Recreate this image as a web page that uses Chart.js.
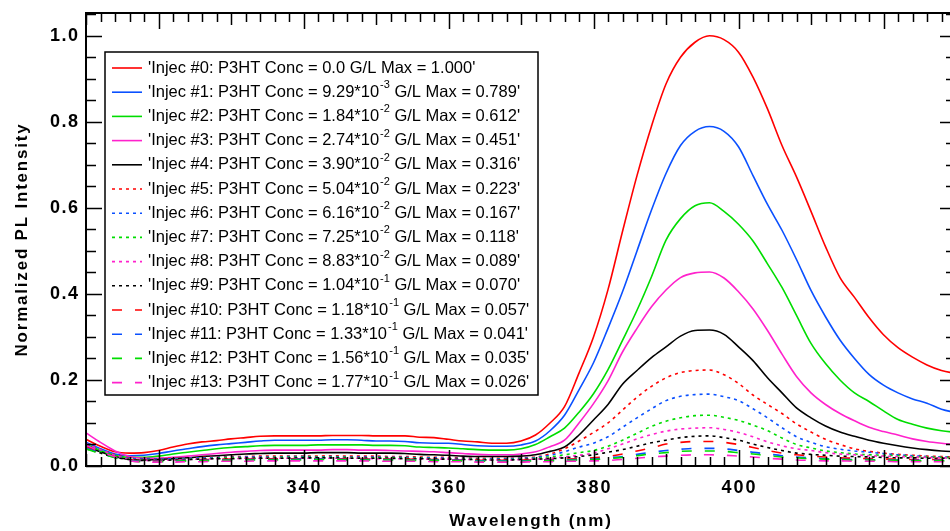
<!DOCTYPE html>
<html>
<head>
<meta charset="utf-8">
<script src="https://cdn.jsdelivr.net/npm/chart.js@4.4.0/dist/chart.umd.min.js"></script>
<style>
  html, body { margin: 0; padding: 0; background: #fff; overflow: hidden; }
  #wrap { width: 960px; height: 531px; }
</style>
</head>
<body>
<div id="wrap"><canvas id="plChart" width="960" height="531"></canvas></div>
<script>
// wavelength grid (nm)
var wavelength = [310, 312, 314, 316, 318, 320, 322, 324, 326, 328,
  330, 332, 334, 336, 338, 340, 342, 344, 346, 348,
  350, 352, 354, 356, 358, 360, 362, 364, 366, 368,
  370, 372, 374, 376, 378, 380, 382, 384, 386, 388,
  390, 392, 394, 396, 398, 400, 402, 404, 406, 408,
  410, 412, 414, 416, 418, 420, 422, 424, 426, 428, 430]

// normalized PL intensity, one array per injection
var inj0 = [0.062, 0.046, 0.033, 0.030, 0.031, 0.036, 0.044, 0.051, 0.056, 0.059,
  0.063, 0.066, 0.069, 0.070, 0.070, 0.070, 0.070, 0.071, 0.071, 0.071,
  0.070, 0.070, 0.070, 0.067, 0.066, 0.062, 0.058, 0.056, 0.053, 0.053,
  0.058, 0.072, 0.100, 0.138, 0.216, 0.300, 0.410, 0.545, 0.675, 0.790,
  0.888, 0.950, 0.985, 1.000, 0.991, 0.962, 0.904, 0.830, 0.745, 0.672,
  0.592, 0.510, 0.438, 0.392, 0.345, 0.305, 0.275, 0.253, 0.235, 0.222, 0.215]
var inj1 = [0.055, 0.040, 0.028, 0.024, 0.025, 0.029, 0.035, 0.040, 0.045, 0.049,
  0.052, 0.055, 0.058, 0.060, 0.060, 0.060, 0.060, 0.061, 0.061, 0.060,
  0.058, 0.058, 0.057, 0.054, 0.053, 0.053, 0.050, 0.047, 0.046, 0.046,
  0.049, 0.058, 0.082, 0.118, 0.177, 0.240, 0.320, 0.405, 0.500, 0.595,
  0.680, 0.745, 0.778, 0.789, 0.778, 0.742, 0.675, 0.608, 0.548, 0.480,
  0.408, 0.347, 0.293, 0.250, 0.213, 0.188, 0.170, 0.156, 0.146, 0.132, 0.124]
var inj2 = [0.050, 0.036, 0.025, 0.020, 0.020, 0.023, 0.028, 0.032, 0.036, 0.040,
  0.043, 0.045, 0.047, 0.048, 0.048, 0.048, 0.049, 0.049, 0.049, 0.049,
  0.048, 0.048, 0.047, 0.044, 0.043, 0.042, 0.040, 0.038, 0.037, 0.037,
  0.040, 0.050, 0.068, 0.088, 0.125, 0.168, 0.224, 0.292, 0.362, 0.440,
  0.525, 0.575, 0.605, 0.612, 0.592, 0.562, 0.523, 0.470, 0.415, 0.350,
  0.285, 0.238, 0.200, 0.170, 0.150, 0.128, 0.108, 0.097, 0.088, 0.082, 0.078]
var inj3 = [0.077, 0.055, 0.035, 0.022, 0.018, 0.018, 0.020, 0.023, 0.026, 0.029,
  0.032, 0.034, 0.036, 0.037, 0.037, 0.037, 0.037, 0.038, 0.038, 0.037,
  0.037, 0.036, 0.035, 0.034, 0.033, 0.031, 0.029, 0.027, 0.026, 0.026,
  0.028, 0.033, 0.045, 0.060, 0.100, 0.145, 0.198, 0.265, 0.320, 0.370,
  0.409, 0.438, 0.449, 0.451, 0.437, 0.405, 0.365, 0.315, 0.260, 0.208,
  0.170, 0.143, 0.122, 0.105, 0.090, 0.080, 0.072, 0.063, 0.057, 0.053, 0.050]
var inj4 = [0.045, 0.033, 0.022, 0.015, 0.014, 0.015, 0.017, 0.019, 0.022, 0.024,
  0.026, 0.028, 0.029, 0.030, 0.030, 0.030, 0.031, 0.031, 0.031, 0.030,
  0.030, 0.030, 0.029, 0.027, 0.026, 0.025, 0.023, 0.022, 0.022, 0.022,
  0.023, 0.026, 0.034, 0.044, 0.072, 0.107, 0.143, 0.190, 0.222, 0.252,
  0.277, 0.302, 0.315, 0.316, 0.306, 0.277, 0.245, 0.205, 0.170, 0.135,
  0.112, 0.093, 0.079, 0.069, 0.060, 0.053, 0.047, 0.042, 0.038, 0.035, 0.033]
var inj5 = [0.050, 0.038, 0.026, 0.019, 0.017, 0.017, 0.018, 0.019, 0.020, 0.021,
  0.022, 0.022, 0.023, 0.023, 0.023, 0.023, 0.023, 0.024, 0.023, 0.023,
  0.023, 0.022, 0.022, 0.021, 0.020, 0.020, 0.019, 0.018, 0.018, 0.018,
  0.019, 0.021, 0.028, 0.040, 0.058, 0.078, 0.100, 0.130, 0.160, 0.185,
  0.205, 0.217, 0.222, 0.223, 0.212, 0.192, 0.165, 0.143, 0.122, 0.098,
  0.079, 0.062, 0.050, 0.040, 0.034, 0.030, 0.027, 0.025, 0.023, 0.022, 0.021]
var inj6 = [0.048, 0.036, 0.025, 0.018, 0.016, 0.016, 0.017, 0.018, 0.019, 0.020,
  0.020, 0.021, 0.021, 0.021, 0.022, 0.022, 0.021, 0.022, 0.021, 0.021,
  0.021, 0.020, 0.020, 0.019, 0.019, 0.018, 0.018, 0.017, 0.017, 0.017,
  0.018, 0.020, 0.025, 0.033, 0.044, 0.053, 0.068, 0.090, 0.112, 0.133,
  0.152, 0.162, 0.166, 0.167, 0.161, 0.152, 0.133, 0.112, 0.089, 0.068,
  0.055, 0.045, 0.039, 0.035, 0.032, 0.029, 0.026, 0.024, 0.022, 0.021, 0.020]
var inj7 = [0.046, 0.034, 0.023, 0.016, 0.014, 0.014, 0.015, 0.016, 0.017, 0.018,
  0.019, 0.019, 0.019, 0.020, 0.020, 0.020, 0.020, 0.020, 0.020, 0.019,
  0.019, 0.019, 0.018, 0.018, 0.017, 0.017, 0.016, 0.016, 0.015, 0.015,
  0.016, 0.018, 0.021, 0.026, 0.031, 0.036, 0.046, 0.060, 0.076, 0.092,
  0.104, 0.112, 0.117, 0.118, 0.113, 0.106, 0.095, 0.082, 0.065, 0.050,
  0.042, 0.035, 0.031, 0.028, 0.026, 0.025, 0.024, 0.022, 0.021, 0.020, 0.019]
var inj8 = [0.052, 0.038, 0.025, 0.016, 0.013, 0.013, 0.014, 0.015, 0.016, 0.017,
  0.017, 0.018, 0.018, 0.018, 0.018, 0.018, 0.018, 0.018, 0.018, 0.018,
  0.017, 0.017, 0.017, 0.016, 0.016, 0.016, 0.015, 0.015, 0.014, 0.014,
  0.015, 0.016, 0.018, 0.021, 0.025, 0.030, 0.040, 0.051, 0.063, 0.073,
  0.081, 0.086, 0.088, 0.089, 0.085, 0.078, 0.068, 0.056, 0.047, 0.040,
  0.036, 0.031, 0.028, 0.026, 0.024, 0.023, 0.022, 0.021, 0.020, 0.019, 0.018]
var inj9 = [0.040, 0.030, 0.020, 0.015, 0.013, 0.013, 0.014, 0.015, 0.016, 0.017,
  0.017, 0.018, 0.018, 0.018, 0.018, 0.019, 0.019, 0.019, 0.018, 0.018,
  0.018, 0.018, 0.017, 0.017, 0.016, 0.016, 0.015, 0.015, 0.014, 0.014,
  0.015, 0.016, 0.017, 0.019, 0.022, 0.026, 0.032, 0.038, 0.046, 0.054,
  0.060, 0.066, 0.069, 0.070, 0.066, 0.060, 0.051, 0.043, 0.036, 0.030,
  0.027, 0.025, 0.023, 0.022, 0.021, 0.020, 0.019, 0.019, 0.018, 0.018, 0.017]
var inj10 = [0.044, 0.032, 0.021, 0.014, 0.012, 0.012, 0.013, 0.014, 0.015, 0.015,
  0.016, 0.016, 0.016, 0.017, 0.017, 0.017, 0.017, 0.017, 0.017, 0.016,
  0.016, 0.016, 0.016, 0.015, 0.015, 0.014, 0.014, 0.013, 0.013, 0.013,
  0.014, 0.014, 0.015, 0.016, 0.017, 0.019, 0.022, 0.028, 0.035, 0.042,
  0.051, 0.055, 0.057, 0.057, 0.055, 0.050, 0.043, 0.036, 0.030, 0.026,
  0.023, 0.021, 0.019, 0.018, 0.017, 0.016, 0.016, 0.015, 0.015, 0.015, 0.014]
var inj11 = [0.042, 0.030, 0.020, 0.013, 0.011, 0.011, 0.012, 0.013, 0.013, 0.014,
  0.014, 0.015, 0.015, 0.015, 0.015, 0.016, 0.016, 0.016, 0.015, 0.015,
  0.015, 0.015, 0.014, 0.014, 0.014, 0.013, 0.013, 0.012, 0.012, 0.012,
  0.012, 0.013, 0.013, 0.014, 0.015, 0.016, 0.019, 0.022, 0.027, 0.032,
  0.036, 0.039, 0.041, 0.041, 0.040, 0.036, 0.032, 0.028, 0.024, 0.021,
  0.019, 0.017, 0.016, 0.015, 0.015, 0.014, 0.014, 0.013, 0.013, 0.013, 0.012]
var inj12 = [0.040, 0.029, 0.019, 0.012, 0.010, 0.010, 0.011, 0.012, 0.012, 0.013,
  0.013, 0.014, 0.014, 0.014, 0.014, 0.014, 0.015, 0.015, 0.014, 0.014,
  0.014, 0.014, 0.013, 0.013, 0.013, 0.012, 0.012, 0.011, 0.011, 0.011,
  0.011, 0.012, 0.012, 0.013, 0.014, 0.015, 0.017, 0.020, 0.024, 0.028,
  0.031, 0.034, 0.035, 0.035, 0.034, 0.031, 0.028, 0.024, 0.021, 0.019,
  0.017, 0.016, 0.015, 0.014, 0.014, 0.013, 0.013, 0.012, 0.012, 0.012, 0.011]
var inj13 = [0.048, 0.034, 0.021, 0.012, 0.009, 0.009, 0.009, 0.010, 0.010, 0.011,
  0.011, 0.011, 0.012, 0.012, 0.012, 0.012, 0.012, 0.012, 0.012, 0.012,
  0.011, 0.011, 0.011, 0.011, 0.010, 0.010, 0.010, 0.009, 0.009, 0.009,
  0.009, 0.010, 0.010, 0.011, 0.011, 0.012, 0.013, 0.015, 0.018, 0.021,
  0.023, 0.025, 0.026, 0.026, 0.025, 0.023, 0.021, 0.018, 0.016, 0.014,
  0.013, 0.012, 0.012, 0.011, 0.011, 0.011, 0.010, 0.010, 0.010, 0.010, 0.009]

var injSeries = [inj0, inj1, inj2, inj3, inj4, inj5, inj6, inj7, inj8, inj9, inj10, inj11, inj12, inj13]

// legend text pieces
var concValue = ['0.0', '9.29', '1.84', '2.74', '3.90', '5.04', '6.16', '7.25', '8.83', '1.04', '1.18', '1.33', '1.56', '1.77']
var concExp = ['', '-3', '-2', '-2', '-2', '-2', '-2', '-2', '-2', '-1', '-1', '-1', '-1', '-1']
var maxValue = ['1.000', '0.789', '0.612', '0.451', '0.316', '0.223', '0.167', '0.118', '0.089', '0.070', '0.057', '0.041', '0.035', '0.026']

var xTickLabels = [320, 340, 360, 380, 400, 420]
var yTickLabels = [0.0, 0.2, 0.4, 0.6, 0.8, 1.0]

var palette = ['#ff0000', '#0a50ff', '#00dd00', '#ff22cc', '#000000']
var dotted = [3, 4]
var dashed = [10, 13]

function colorFor(i) {
  return palette[i < 5 ? i : (i < 10 ? i - 5 : i - 10)]
}
function dashFor(i) {
  if (i < 5) return []
  if (i < 10) return dotted
  return dashed
}

var datasets = []
for (var i = 0; i < injSeries.length; i++) {
  var pts = []
  for (var k = 0; k < wavelength.length; k++) {
    pts.push({ x: wavelength[k], y: injSeries[i][k] })
  }
  datasets.push({
    label: "'Injec #" + i + "'",
    data: pts,
    borderColor: colorFor(i),
    borderWidth: 1.6,
    borderDash: dashFor(i),
    pointRadius: 0,
    fill: false,
    cubicInterpolationMode: 'monotone',
    order: 14 - i
  })
}

var FONT = 'Liberation Sans, Arial, sans-serif'

// frame, inward ticks, labels, titles and the boxed legend
var igorAxes = {
  id: 'igorAxes',
  afterDraw: function (chart) {
    var ctx = chart.ctx
    var a = chart.chartArea
    var xs = chart.scales.x
    var ys = chart.scales.y
    ctx.save()
    ctx.setLineDash([])
    ctx.strokeStyle = '#000'
    ctx.lineWidth = 2
    ctx.strokeRect(a.left, a.top, a.right - a.left, a.bottom - a.top)

    ctx.lineWidth = 1.5
    ctx.beginPath()
    for (var n = 310; n <= 430; n += 2) {
      var px = Math.round(xs.getPixelForValue(n)) + 0.5
      var len = n % 20 === 0 ? 16 : (n % 10 === 0 ? 12 : 9)
      ctx.moveTo(px, a.bottom); ctx.lineTo(px, a.bottom - len)
      ctx.moveTo(px, a.top); ctx.lineTo(px, a.top + len)
    }
    for (var m = 0; m <= 21; m++) {
      var py = Math.round(ys.getPixelForValue(m * 0.05)) + 0.5
      var ylen = m % 4 === 0 ? 16 : 10
      ctx.moveTo(a.left, py); ctx.lineTo(a.left + ylen, py)
      ctx.moveTo(a.right, py); ctx.lineTo(a.right - ylen, py)
    }
    ctx.stroke()

    ctx.fillStyle = '#000'
    ctx.font = 'bold 18px ' + FONT
    ctx.letterSpacing = '2px'
    ctx.textAlign = 'center'
    ctx.textBaseline = 'middle'
    xTickLabels.forEach(function (v) {
      ctx.fillText(String(v), xs.getPixelForValue(v) + 1, a.bottom + 22)
    })
    ctx.letterSpacing = '1.5px'
    ctx.textAlign = 'right'
    yTickLabels.forEach(function (v) {
      ctx.fillText(v.toFixed(1), a.left - 6.5, ys.getPixelForValue(v))
    })

    ctx.font = 'bold 17px ' + FONT
    ctx.letterSpacing = '1.8px'
    ctx.textAlign = 'center'
    ctx.fillText('Wavelength (nm)', 531, 521)
    ctx.save()
    ctx.translate(22, (a.top + a.bottom) / 2)
    ctx.rotate(-Math.PI / 2)
    ctx.fillText('Normalized PL Intensity', 0, 0)
    ctx.restore()
    ctx.letterSpacing = '0px'

    // legend
    var bx = 105, by = 52, bw = 433, bh = 343
    ctx.fillStyle = '#fff'
    ctx.fillRect(bx, by, bw, bh)
    ctx.lineWidth = 1.5
    ctx.strokeStyle = '#000'
    ctx.strokeRect(bx, by, bw, bh)
    for (var i = 0; i < injSeries.length; i++) {
      var ry = 68 + i * 24.2
      ctx.strokeStyle = colorFor(i)
      ctx.lineWidth = 1.6
      ctx.setLineDash(dashFor(i))
      ctx.beginPath()
      ctx.moveTo(112, ry); ctx.lineTo(142, ry)
      ctx.stroke()
      ctx.setLineDash([])

      ctx.fillStyle = '#000'
      ctx.textAlign = 'left'
      ctx.textBaseline = 'middle'
      ctx.font = '16.5px ' + FONT
      var tx = 148
      var first = "'Injec #" + i + ': P3HT Conc = ' + concValue[i] + (concExp[i] ? '*10' : '')
      ctx.fillText(first, tx, ry)
      tx += ctx.measureText(first).width
      if (concExp[i]) {
        ctx.font = '11px ' + FONT
        ctx.fillText(concExp[i], tx + 1, ry - 7)
        tx += ctx.measureText(concExp[i]).width + 1
        ctx.font = '16.5px ' + FONT
      }
      ctx.fillText(' G/L Max = ' + maxValue[i] + "'", tx, ry)
    }
    ctx.restore()
  }
}

new Chart(document.getElementById('plChart'), {
  type: 'line',
  data: { datasets: datasets },
  options: {
    responsive: false,
    animation: false,
    layout: { padding: { left: 86, top: 13, right: 4, bottom: 65 } },
    plugins: { legend: { display: false }, tooltip: { enabled: false } },
    scales: {
      x: { type: 'linear', min: 310, max: 430, display: false },
      y: { type: 'linear', min: 0, max: 1.053, display: false }
    }
  },
  plugins: [igorAxes]
})
</script>
</body>
</html>
